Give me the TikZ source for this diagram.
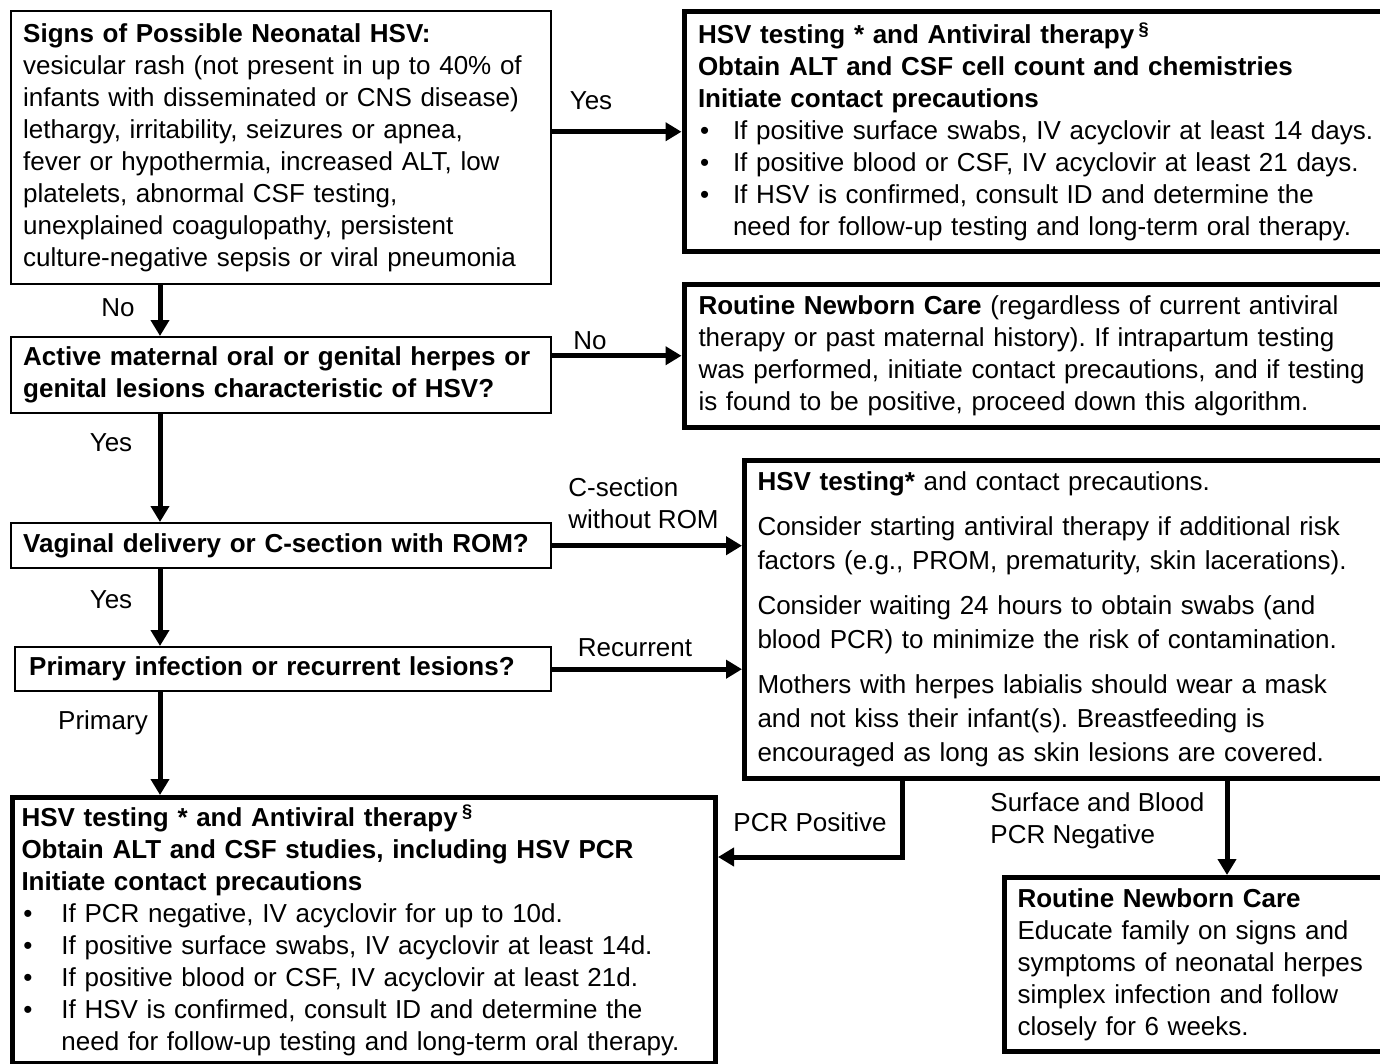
\documentclass[tikz,border=0pt]{standalone}
\usepackage{fontspec}
\setmainfont{Liberation Sans}
\usetikzlibrary{arrows.meta}

\newcommand{\bul}[2][20pt]{\makebox[#1][l]{\hspace{1pt}•}#2}
\newcommand{\cnt}[1][20pt]{\hspace*{#1}}

\begin{document}
\frenchspacing
\begin{tikzpicture}[x=0.5pt, y=-0.5pt,
    every node/.style={font=\fontsize{13}{16}\selectfont},
    thinbox/.style={draw, line width=1.2pt, anchor=north west, align=left, inner xsep=6pt, inner ysep=0pt},
    thickbox/.style={draw, line width=2.5pt, anchor=north west, align=left, inner xsep=7.5pt, inner ysep=0pt},
    conn/.style={line width=2.5pt, -{Triangle[width=9pt,length=8pt]}},
    lbl/.style={inner sep=0pt}]
    \useasboundingbox (0,0) rectangle (1380,1064);
    \clip (0,0) rectangle (1380,1064);

    % Left column: questions
    \node[thinbox, text width=258pt, minimum height=136.5pt] (signs) at (10,10)
        {\textbf{Signs of Possible Neonatal HSV:}\\
         vesicular rash (not present in up to 40\% of\\
         infants with disseminated or CNS disease)\\
         lethargy, irritability, seizures or apnea,\\
         fever or hypothermia, increased ALT, low\\
         platelets, abnormal CSF testing,\\
         unexplained coagulopathy, persistent\\
         culture-negative sepsis or viral pneumonia};
    \node[thinbox, text width=258pt, minimum height=38pt] (active) at (10,336)
        {\textbf{Active maternal oral or genital herpes or}\\
         \textbf{genital lesions characteristic of HSV?}};
    \node[thinbox, text width=258pt, minimum height=22.5pt] (vaginal) at (10,522)
        {\textbf{Vaginal delivery or C-section with ROM?}};
    \node[thinbox, inner xsep=7pt, text width=254pt, minimum height=22pt] (primary) at (14,646)
        {\textbf{Primary infection or recurrent lesions?}};

    % Right column: actions
    \node[thickbox, inner xsep=7pt, text width=370pt, minimum height=119.75pt] (hsvtop) at (681.5,9.5)
        {\textbf{HSV testing * and Antiviral therapy}\,\textsuperscript{\textbf{§}}\\
         \textbf{Obtain ALT and CSF cell count and chemistries}\\
         \textbf{Initiate contact precautions}\\
         \bul[17.5pt]{If positive surface swabs, IV acyclovir at least 14 days.}\\
         \bul[17.5pt]{If positive blood or CSF, IV acyclovir at least 21 days.}\\
         \bul[17.5pt]{If HSV is confirmed, consult ID and determine the}\\
         \cnt[17.5pt]need for follow-up testing and long-term oral therapy.};
    \node[thickbox, inner xsep=7.25pt, text width=370pt, minimum height=71.75pt] (routine) at (681.5,281.5)
        {\textbf{Routine Newborn Care} (regardless of current antiviral\\
         therapy or past maternal history). If intrapartum testing\\
         was performed, initiate contact precautions, and if testing\\
         is found to be positive, proceed down this algorithm.};
    \node[thickbox, inner xsep=6.5pt, text width=340pt, minimum height=159pt,
          font=\fontsize{13}{17}\selectfont] (consider) at (742,458)
        {\textbf{HSV testing*} and contact precautions.\\[5.5pt]
         Consider starting antiviral therapy if additional risk\\
         factors (e.g., PROM, prematurity, skin lacerations).\\[5.5pt]
         Consider waiting 24 hours to obtain swabs (and\\
         blood PCR) to minimize the risk of contamination.\\[5.5pt]
         Mothers with herpes labialis should wear a mask\\
         and not kiss their infant(s). Breastfeeding is\\
         encouraged as long as skin lesions are covered.};

    % Bottom row
    \node[thickbox, inner xsep=4.5pt, text width=342.5pt, minimum height=133pt] (hsvbottom) at (10,795)
        {\textbf{HSV testing * and Antiviral therapy}\,\textsuperscript{\textbf{§}}\\
         \textbf{Obtain ALT and CSF studies, including HSV PCR}\\
         \textbf{Initiate contact precautions}\\
         \bul{If PCR negative, IV acyclovir for up to 10d.}\\
         \bul{If positive surface swabs, IV acyclovir at least 14d.}\\
         \bul{If positive blood or CSF, IV acyclovir at least 21d.}\\
         \bul{If HSV is confirmed, consult ID and determine the}\\
         \cnt need for follow-up testing and long-term oral therapy.};
    \node[thickbox, inner xsep=6.5pt, text width=200pt, minimum height=87pt] (newborn) at (1002,875)
        {\textbf{Routine Newborn Care}\\
         Educate family on signs and\\
         symptoms of neonatal herpes\\
         simplex infection and follow\\
         closely for 6 weeks.};

    % Helper coordinates for the connectors
    \coordinate (spine) at (160,0);
    \coordinate (pcrturn) at (902,857);
    \coordinate (negx) at (1227,0);

    % Connectors
    \draw[conn] (signs.east |- hsvtop.west) -- (hsvtop.west);
    \draw[conn] (signs.south -| spine) -- (active.north -| spine);
    \draw[conn] (active.east |- routine.west) -- (routine.west);
    \draw[conn] (active.south -| spine) -- (vaginal.north -| spine);
    \draw[conn] (vaginal.east) -- (vaginal.east -| consider.west);
    \draw[conn] (vaginal.south -| spine) -- (primary.north -| spine);
    \draw[conn] (primary.east) -- (primary.east -| consider.west);
    \draw[conn] (primary.south -| spine) -- (hsvbottom.north -| spine);
    \draw[conn] (consider.south -| pcrturn) |- (hsvbottom.east |- pcrturn);
    \draw[conn] (consider.south -| negx) -- (newborn.north -| negx);

    % Labels on the connectors
    \node[lbl] (yesA) at (591,101) {Yes};
    \node[lbl] (noA) at (118,308) {No};
    \node[lbl] (noB) at (590,341) {No};
    \node[lbl] (yesB) at (111,443) {Yes};
    \node[lbl, align=left, anchor=west] (csec) at (568,503) {C-section\\without ROM};
    \node[lbl] (yesC) at (111,600) {Yes};
    \node[lbl] (recur) at (635,648) {Recurrent};
    \node[lbl] (prim) at (103,723) {Primary};
    \node[lbl] (pcrpos) at (810,822) {PCR Positive};
    \node[lbl, align=left, anchor=west] (surfneg) at (990,821) {Surface and Blood\\PCR Negative};
\end{tikzpicture}
\end{document}
